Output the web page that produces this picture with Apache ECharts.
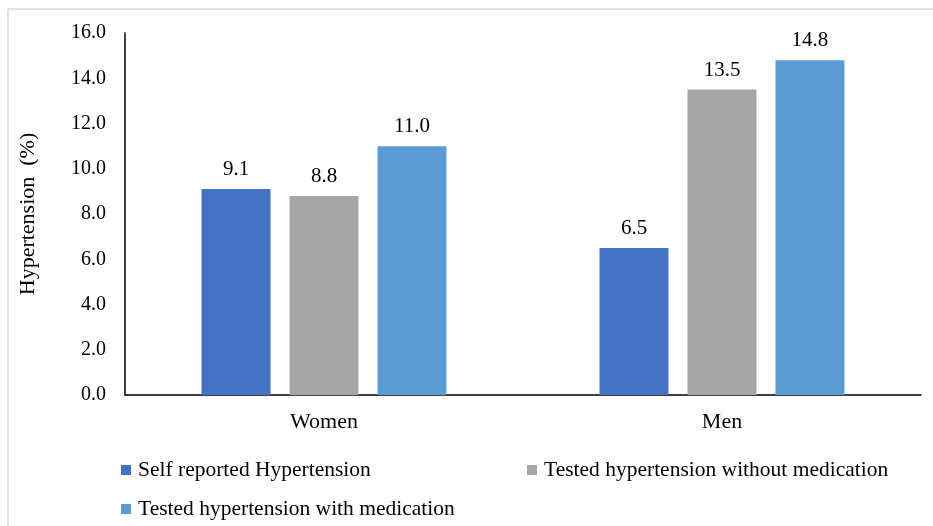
<!DOCTYPE html>
<html>
<head>
<meta charset="utf-8">
<script src="https://cdn.jsdelivr.net/npm/echarts@6/dist/echarts.min.js"></script>
<style>html,body{margin:0;padding:0;background:#fff}#c{width:933px;height:526px}</style>
</head>
<body>
<div id="c"></div>
<script>
const categories = ['Women', 'Men'];
const seriesNames = ['Self reported Hypertension', 'Tested hypertension without medication', 'Tested hypertension with medication'];
const selfReported = [9.1, 6.5];
const testedWithout = [8.8, 13.5];
const testedWith = [11.0, 14.8];
const yTicks = [0, 2, 4, 6, 8, 10, 12, 14, 16];
const colors = ['#4472C4', '#A5A5A5', '#5B9BD5'];

const font = '"Liberation Serif", "Times New Roman", serif';
const chart = echarts.init(document.getElementById('c'), null, {renderer: 'canvas'});
const values = [selfReported, testedWithout, testedWith];

chart.setOption({
  animation: false,
  backgroundColor: '#fff',
  textStyle: {fontFamily: font},
  grid: {left: 125, right: 12, top: 33, bottom: 131, containLabel: false},
  graphic: [
    {type: 'line', shape: {x1: 8, y1: 9, x2: 933, y2: 9}, style: {stroke: '#D9D9D9', lineWidth: 1.5}},
    {type: 'line', shape: {x1: 8, y1: 9, x2: 8, y2: 526}, style: {stroke: '#D9D9D9', lineWidth: 1.5}}
  ],
  legend: [
    {data: [seriesNames[0]], left: 116, top: 454},
    {data: [seriesNames[1]], left: 522, top: 454},
    {data: [seriesNames[2]], left: 116, top: 493}
  ].map(l => Object.assign(l, {
    orient: 'horizontal', icon: 'rect', itemWidth: 10, itemHeight: 10, itemGap: 6,
    textStyle: {fontFamily: font, fontSize: 21.5, color: '#000', padding: [0, 0, 0, 2]}
  })),
  xAxis: {
    type: 'category',
    data: categories,
    axisLine: {lineStyle: {color: '#000', width: 1.5}},
    axisTick: {show: false},
    axisLabel: {fontFamily: font, fontSize: 22, color: '#000', margin: 16}
  },
  yAxis: {
    type: 'value',
    min: 0, max: 16, interval: 2,
    name: 'Hypertension  (%)',
    nameLocation: 'middle',
    nameGap: 86,
    nameTextStyle: {fontFamily: font, fontSize: 22, color: '#000'},
    axisLine: {show: true, lineStyle: {color: '#000', width: 1.5}},
    axisTick: {show: false},
    splitLine: {show: false},
    axisLabel: {fontFamily: font, fontSize: 20, color: '#000', margin: 19,
      formatter: v => yTicks.includes(v) ? v.toFixed(1) : ''}
  },
  series: seriesNames.map((name, i) => ({
    name: name,
    type: 'bar',
    data: values[i],
    barWidth: 69,
    barGap: '27.5%',
    itemStyle: {color: colors[i]},
    label: {show: true, position: 'top', distance: 9, fontFamily: font, fontSize: 21, color: '#000',
      formatter: p => p.value.toFixed(1)}
  }))
});
</script>
</body>
</html>
